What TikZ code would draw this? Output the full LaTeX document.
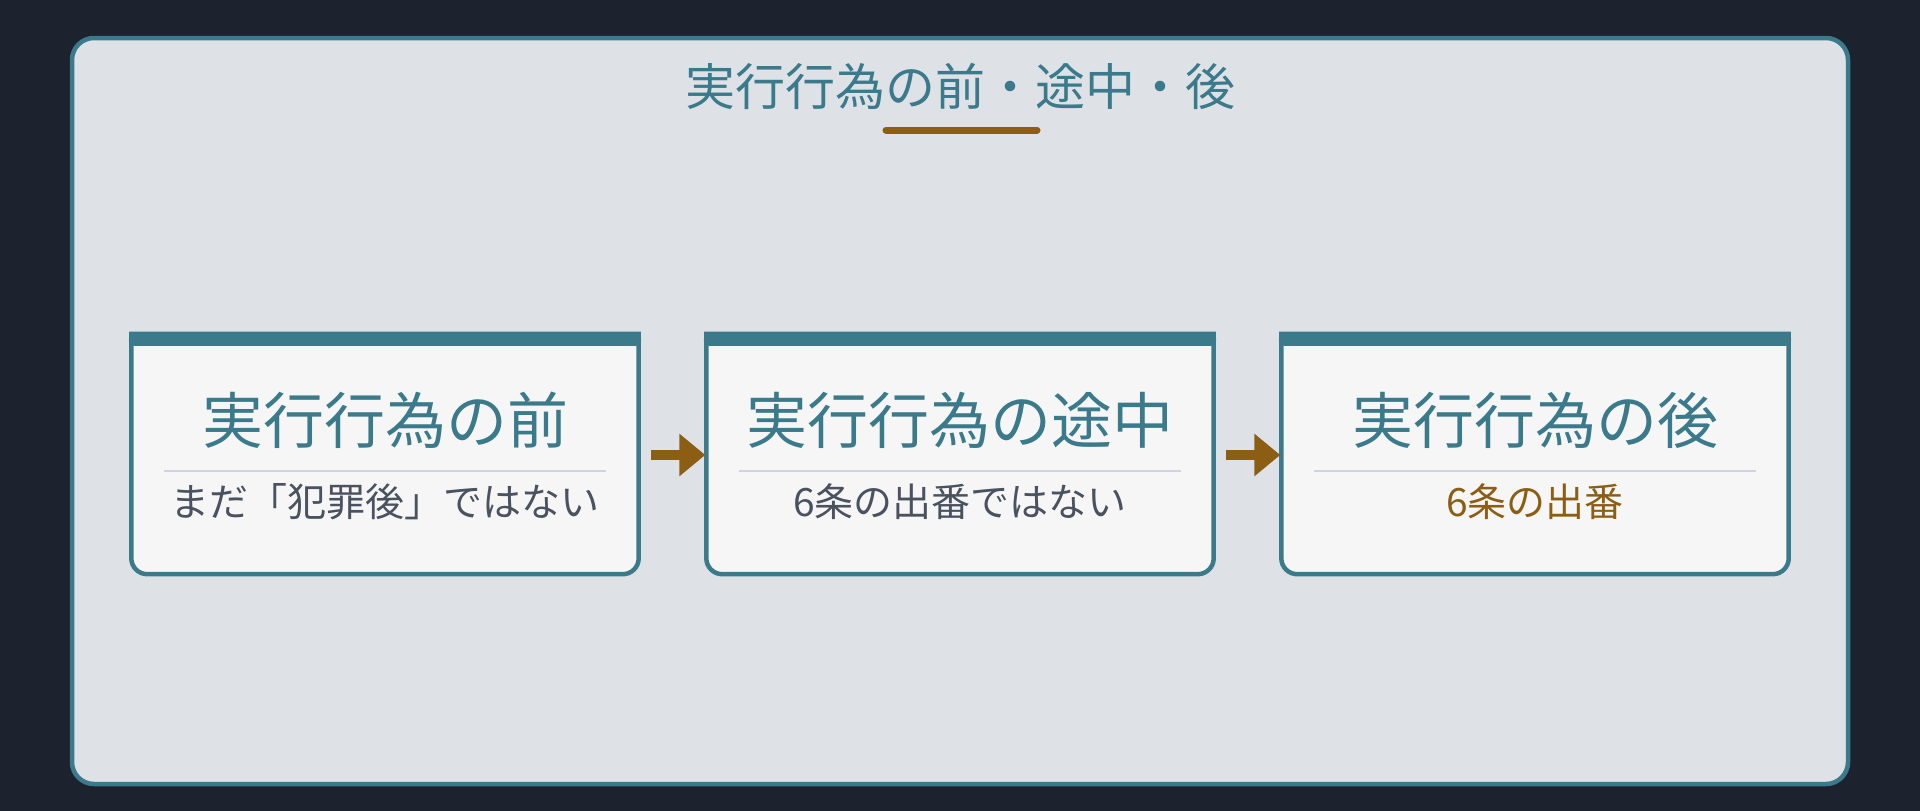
\documentclass[tikz,border=0pt]{standalone}
\usepackage{fontspec}
\setmainfont{Noto Sans CJK JP}
\usetikzlibrary{arrows.meta}
\definecolor{bgdark}{HTML}{1C232E}
\definecolor{panelfill}{HTML}{DEE2E7}
\definecolor{teal}{HTML}{3B7A8A}
\definecolor{boxfill}{HTML}{F6F6F6}
\definecolor{brownc}{HTML}{8B5E14}
\definecolor{subgray}{HTML}{4A5260}
\definecolor{sepgray}{HTML}{CED4DD}
\tikzset{
  boxshape/.style={minimum width=507pt, minimum height=240pt, inner sep=0pt, draw=none},
  boxline/.style={draw=teal, line width=4.5pt, fill=boxfill},
  topbar/.style={draw=teal, line width=13pt, line cap=round},
  boxtitle/.style={text=teal, font=\fontsize{61pt}{70pt}\selectfont, inner sep=0pt},
  boxsub/.style={text=subgray, font=\fontsize{39pt}{46pt}\selectfont, inner sep=0pt},
  sepline/.style={draw=sepgray, line width=2pt},
  flowarrow/.style={draw=brownc, line width=10pt, -{Triangle[length=26pt,width=41pt]}},
}
\begin{document}
\begin{tikzpicture}[x=1pt,y=-1pt]
\useasboundingbox (0,0) rectangle (1920,811);
\fill[bgdark] (0,0) rectangle (1920,811);
\draw[draw=teal, line width=4.5pt, fill=panelfill, rounded corners=22pt] (72,38) rectangle (1848,784);
\node[text=teal, font=\fontsize{50pt}{58pt}\selectfont, inner sep=0pt] (title) at (960,86) {実行行為の前・途中・後};
\coordinate (ul1) at (886,130);
\coordinate (ul2) at (1037,130);
\draw[draw=brownc, line width=7pt, line cap=round] (ul1) -- (ul2);

\foreach \n/\cx in {1/385, 2/960, 3/1535}{
  \node[boxshape] (b\n) at (\cx,454) {};
  \draw[boxline] (b\n.north west) [rounded corners=16pt] -- (b\n.south west) -- (b\n.south east) [sharp corners] -- (b\n.north east) -- cycle;
  \draw[topbar] ([xshift=4pt,yshift=-6pt]b\n.north west) -- ([xshift=-4pt,yshift=-6pt]b\n.north east);
  \coordinate (sa\n) at ([xshift=33pt]b\n.west |- 0,471);
  \coordinate (sb\n) at ([xshift=-33pt]b\n.east |- 0,471);
  \draw[sepline] (sa\n) -- (sb\n);
}
\node[boxtitle] (t1) at (385,420) {実行行為の前};
\node[boxtitle] (t2) at (960,420) {実行行為の途中};
\node[boxtitle] (t3) at (1535,420) {実行行為の後};
\node[boxsub] (s1) at (385,502) {まだ「犯罪後」ではない};
\node[boxsub] (s2) at (960,502) {6条の出番ではない};
\node[boxsub, text=brownc] (s3) at (1535,502) {6条の出番};

\draw[flowarrow] ([xshift=12pt,yshift=-1pt]b1.east) -- ([xshift=-1pt,yshift=-1pt]b2.west);
\draw[flowarrow] ([xshift=12pt,yshift=-1pt]b2.east) -- ([xshift=-1pt,yshift=-1pt]b3.west);
\end{tikzpicture}
\end{document}
